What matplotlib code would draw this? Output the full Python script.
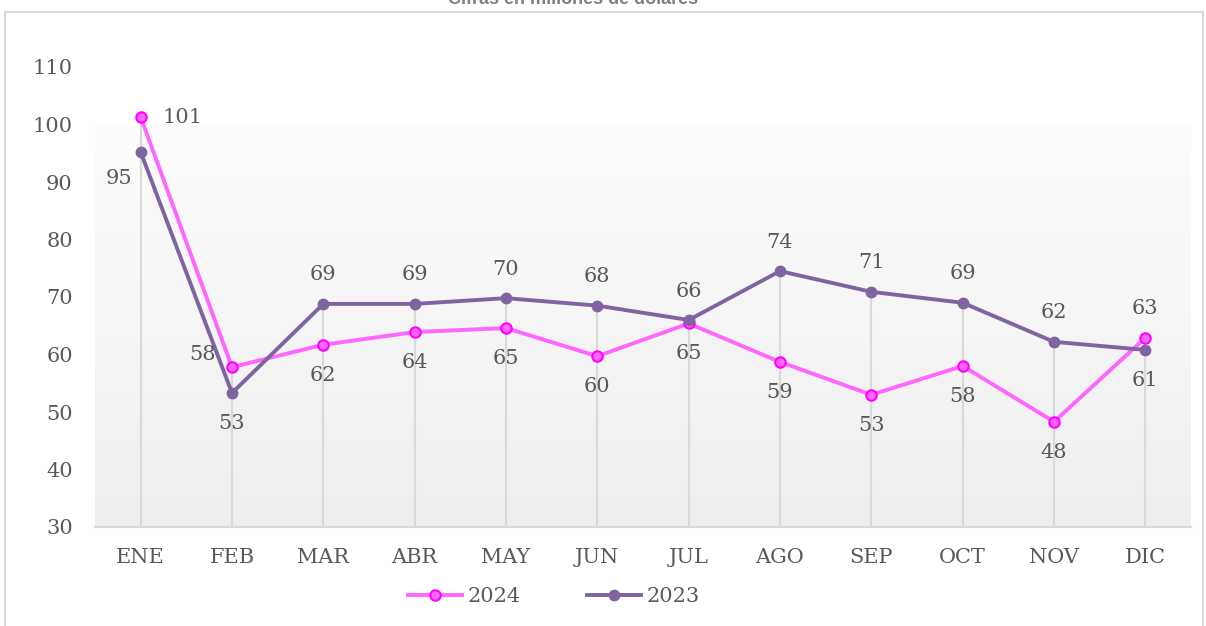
import numpy as np
import matplotlib.pyplot as plt
from matplotlib.patches import Rectangle
from matplotlib.colors import LinearSegmentedColormap

months = ["ENE", "FEB", "MAR", "ABR", "MAY", "JUN", "JUL", "AGO", "SEP", "OCT", "NOV", "DIC"]
v2024 = [101.3, 57.8, 61.7, 63.9, 64.6, 59.7, 65.4, 58.7, 53.0, 58.0, 48.3, 62.9]
v2023 = [95.2, 53.3, 68.8, 68.8, 69.8, 68.5, 66.0, 74.5, 70.9, 69.0, 62.2, 60.8]
# label position per point: "a" above, "b" below, "r" right, "lb" left-below, "la" left-above
pos2024 = ["r", "la", "b", "b", "b", "b", "b", "b", "b", "b", "b", "a"]
pos2023 = ["lb", "b", "a", "a", "a", "a", "a", "a", "a", "a", "a", "b"]

TXT = "#595959"
PINK = "#ff66ff"
PINK_EDGE = "#ff00ff"
PURPLE = "#8064a2"

plt.rcParams["font.family"] = ["DejaVu Serif"]

fig = plt.figure(figsize=(12.06, 6.26), dpi=100)
ax = fig.add_axes([95 / 1206, 1 - 527 / 626, 1096 / 1206, 460 / 626])

# frame around the chart
fig.patches.append(Rectangle((5 / 1206, -0.1), 1198 / 1206, 1.1 - 12 / 626, transform=fig.transFigure,
                             fill=False, edgecolor="#d9d9d9", linewidth=1.5))
# title sits partly above the top edge, as in the original crop
fig.text(573 / 1206, 1 + 1 / 626, "Cifras en millones de dólares", ha="center", va="center",
         fontsize=13, fontweight="bold", color="#7f7f7f", family="Liberation Sans")

x = np.arange(len(months))

# gradient background of plot area
grad = np.linspace(0, 1, 256).reshape(-1, 1)
cmap = LinearSegmentedColormap.from_list("g", ["#eeeeee", "#fdfdfd"])
ax.imshow(grad, extent=(-0.5, len(months) - 0.5, 30, 100), origin="lower", aspect="auto",
          cmap=cmap, zorder=0)

# drop lines
tops = np.maximum(v2024, v2023)
ax.vlines(x, 30, tops, color="#d9d9d9", linewidth=1.5, zorder=1)

ax.plot(x, v2024, color=PINK, linewidth=2.8, marker="o", markersize=7.5,
        markerfacecolor=PINK, markeredgecolor=PINK_EDGE, markeredgewidth=1.5, zorder=3, label="2024")
ax.plot(x, v2023, color=PURPLE, linewidth=2.8, marker="o", markersize=7.5,
        markerfacecolor=PURPLE, markeredgecolor=PURPLE, zorder=3, label="2023")

offs = {"a": (0, 14, "center", "bottom"), "b": (0, -15, "center", "top"),
        "r": (16, 0, "left", "center"),
        "lb": (-6, -12, "right", "top"), "la": (-12, 2, "right", "bottom")}
for vals, poss in ((v2024, pos2024), (v2023, pos2023)):
    for xi, v, p in zip(x, vals, poss):
        dx, dy, ha, va = offs[p]
        ax.annotate(f"{v:.0f}", (xi, v), xytext=(dx, dy), textcoords="offset points",
                    ha=ha, va=va, fontsize=15, color=TXT)

ax.set_xlim(-0.5, len(months) - 0.5)
ax.set_ylim(30, 110)
ax.set_yticks(range(30, 111, 10))
ax.set_xticks(x)
ax.set_xticklabels(months)
ax.tick_params(axis="both", length=0, labelsize=15, colors=TXT)
ax.tick_params(axis="y", pad=16)
ax.tick_params(axis="x", pad=15)
for s in ["top", "right", "left"]:
    ax.spines[s].set_visible(False)
ax.spines["bottom"].set_color("#d9d9d9")
ax.spines["bottom"].set_linewidth(1.5)
ax.set_facecolor("none")

leg = fig.legend(loc="center", bbox_to_anchor=(554 / 1206, 1 - 597 / 626), ncol=2, frameon=False,
                 fontsize=15, handlelength=2.6, columnspacing=3.2, handletextpad=0.25)
for t in leg.get_texts():
    t.set_color(TXT)

fig.savefig("out.png", dpi=100)
